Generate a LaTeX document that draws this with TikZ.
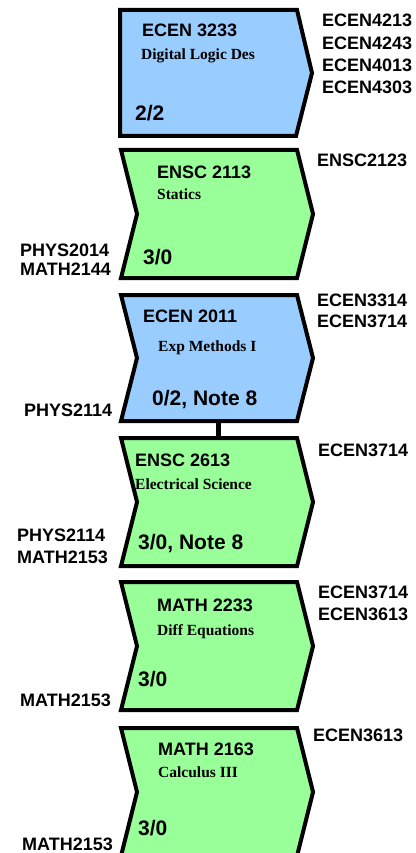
\documentclass[tikz,border=0pt]{standalone}
\usepackage{fontspec}
\setmainfont{Liberation Serif}
\setsansfont{Liberation Sans}
\definecolor{boxblue}{RGB}{153,204,255}
\definecolor{boxgreen}{RGB}{153,255,153}
\tikzset{
  code/.style={font=\sffamily\bfseries\fontsize{18}{20}\selectfont, anchor=base west, inner sep=0pt},
  ctitle/.style={font=\rmfamily\bfseries\fontsize{15.5}{18}\selectfont, anchor=base west, inner sep=0pt},
  credit/.style={font=\sffamily\bfseries\fontsize{21}{24}\selectfont, anchor=base west, inner sep=0pt},
  chev/.style={draw=black, line width=4pt, line join=miter},
  link/.style={draw=black, line width=5pt}
}
% \notched{name}{top}{height}{colour}
\newcommand{\notched}[4]{%
  \coordinate (#1-tl) at (121,#2);
  \coordinate (#1-tr) at (297,#2);
  \coordinate (#1-pt) at (313,#2+#3/2);
  \coordinate (#1-br) at (297,#2+#3);
  \coordinate (#1-bl) at (121,#2+#3);
  \coordinate (#1-nt) at (137,#2+#3/2);
  \path[chev, fill=#4] (#1-tl) -- (#1-tr) -- (#1-pt) -- (#1-br) -- (#1-bl) -- (#1-nt) -- cycle;
}
\begin{document}
\begin{tikzpicture}[x=1pt,y=-1pt]
\useasboundingbox (0,0) rectangle (415,853);
\clip (0,0) rectangle (415,853);

% Box 1: ECEN 3233
\coordinate (a-tl) at (120,10);
\coordinate (a-tr) at (297,10);
\coordinate (a-pt) at (312,73);
\coordinate (a-br) at (296,136);
\coordinate (a-bl) at (120,136);
\path[chev, fill=boxblue] (a-tl) -- (a-tr) -- (a-pt) -- (a-br) -- (a-bl) -- cycle;
\node[code]   (a-code) at (142,37) {ECEN 3233};
\node[ctitle] (a-name) at (141,60) {Digital Logic Des};
\node[credit] (a-cr)   at (135,121) {2/2};
\node[code] (a-o1) at (322,26.7) {ECEN4213};
\node[code] (a-o2) at (322,49.1) {ECEN4243};
\node[code] (a-o3) at (322,71.5) {ECEN4013};
\node[code] (a-o4) at (322,93.9) {ECEN4303};

% Box 2: ENSC 2113
\notched{b}{150}{128}{boxgreen}
\node[code]   (b-code) at (157,178.3) {ENSC 2113};
\node[ctitle] (b-name) at (157,200) {Statics};
\node[credit] (b-cr)   at (143,264) {3/0};
\node[code] (b-o1) at (317,166.7) {ENSC2123};
\node[code] (b-i1) at (20,256.7) {PHYS2014};
\node[code] (b-i2) at (20,275.7) {MATH2144};

% Box 3: ECEN 2011
\notched{c}{295}{126}{boxblue}
\node[code]   (c-code) at (143,322) {ECEN 2011};
\node[ctitle] (c-name) at (158,351) {Exp Methods I};
\node[credit] (c-cr)   at (152,405) {0/2, Note 8};
\node[code] (c-o1) at (317,306.7) {ECEN3314};
\node[code] (c-o2) at (317,327.7) {ECEN3714};
\node[code] (c-i1) at (24,416.7) {PHYS2114};

% Box 4: ENSC 2613
\notched{d}{438}{128}{boxgreen}
\node[code]   (d-code) at (135,466.7) {ENSC 2613};
\node[ctitle] (d-name) at (135,489) {Electrical Science};
\node[credit] (d-cr)   at (138,549) {3/0, Note 8};
\node[code] (d-o1) at (318,456.7) {ECEN3714};
\node[code] (d-i1) at (17,541.7) {PHYS2114};
\node[code] (d-i2) at (17,563.3) {MATH2153};

% connector between box 3 and box 4
\coordinate (c-down) at (218,421);
\coordinate (d-up) at (218,438);
\draw[link] (c-down) -- (d-up);

% Box 5: MATH 2233
\notched{e}{582}{128}{boxgreen}
\node[code]   (e-code) at (157,611.7) {MATH 2233};
\node[ctitle] (e-name) at (157,635) {Diff Equations};
\node[credit] (e-cr)   at (138,686) {3/0};
\node[code] (e-o1) at (318,598) {ECEN3714};
\node[code] (e-o2) at (318,620) {ECEN3613};
\node[code] (e-i1) at (20,706) {MATH2153};

% Box 6: MATH 2163
\notched{f}{728}{128}{boxgreen}
\node[code]   (f-code) at (158,755.7) {MATH 2163};
\node[ctitle] (f-name) at (158,777) {Calculus III};
\node[credit] (f-cr)   at (138,835) {3/0};
\node[code] (f-o1) at (313,741.7) {ECEN3613};
\node[code] (f-i1) at (22,850) {MATH2153};
\end{tikzpicture}
\end{document}
